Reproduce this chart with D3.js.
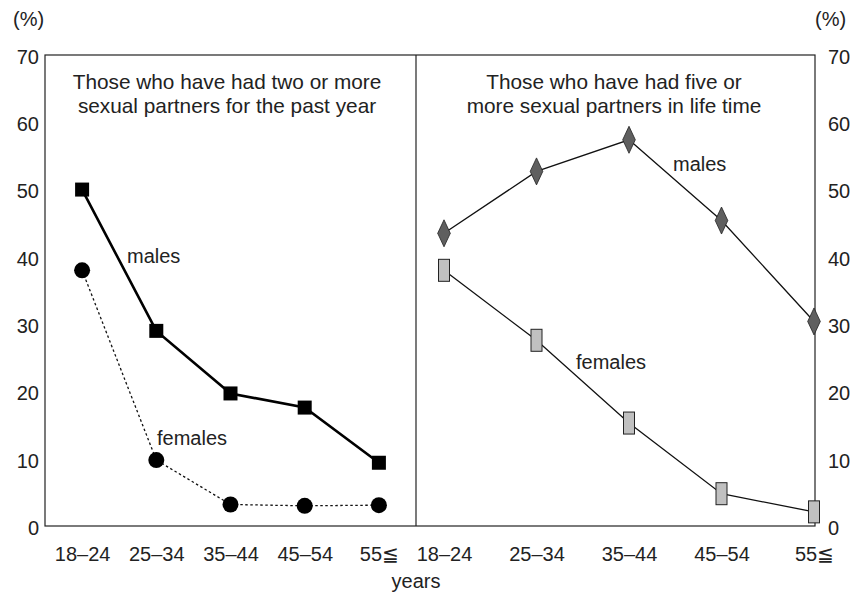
<!DOCTYPE html>
<html><head><meta charset="utf-8">
<script src="https://cdn.jsdelivr.net/npm/d3@7"></script>
<style>body{margin:0;background:#fff;} text{font-family:"Liberation Sans",Arial,sans-serif;fill:#222;}</style>
</head><body><svg id="c" width="853" height="594"></svg>
<script>
const categories = ["18–24","25–34","35–44","45–54","55≦"];
const leftMales = [50, 29, 19.7, 17.6, 9.4];
const leftFemales = [38, 9.8, 3.2, 3.0, 3.1];
const rightMales = [43.5, 52.7, 57.4, 45.4, 30.4];
const rightFemales = [38, 27.6, 15.3, 4.8, 2.1];
const yTicks = [0,10,20,30,40,50,60,70];

const svg = d3.select("#c");
const x0 = 45, xMid = 416, x1 = 815, yTop = 55, yBot = 526;
const y = d3.scaleLinear().domain([0,70]).range([yBot, yTop]);
const xL = d3.scalePoint().domain(categories).range([x0, xMid]).padding(0.5);
const xR = d3.scalePoint().domain(categories).range([444, 814]);

// frame
svg.append("rect").attr("x",x0).attr("y",yTop).attr("width",x1-x0).attr("height",yBot-yTop)
  .attr("fill","none").attr("stroke","#222").attr("stroke-width",1.2);
svg.append("line").attr("x1",xMid).attr("x2",xMid).attr("y1",yTop).attr("y2",yBot).attr("stroke","#222").attr("stroke-width",1.2);

const fs = 20;
const FF = "Liberation Sans, Arial, sans-serif";
// y axes
const ayL = d3.axisLeft(y).tickValues(yTicks).tickSize(0).tickPadding(6);
const gL = svg.append("g").attr("transform",`translate(${x0},2)`).call(ayL);
const ayR = d3.axisRight(y).tickValues(yTicks).tickSize(0).tickPadding(13);
const gR = svg.append("g").attr("transform",`translate(${x1},2)`).call(ayR);
[gL,gR].forEach(g=>{g.select(".domain").remove(); g.selectAll("text").attr("font-size",fs).attr("font-family",FF).attr("fill","#222");});

// x axes
const axL = d3.axisBottom(xL).tickSize(0).tickPadding(21);
const axR = d3.axisBottom(xR).tickSize(0).tickPadding(21);
const gxL = svg.append("g").attr("transform",`translate(0,${yBot})`).call(axL);
const gxR = svg.append("g").attr("transform",`translate(0,${yBot})`).call(axR);
[gxL,gxR].forEach(g=>{g.select(".domain").remove(); g.selectAll("text").attr("font-size",fs).attr("font-family",FF).attr("fill","#222");});

svg.append("text").attr("x",13).attr("y",26).attr("font-size",fs).text("(%)");
svg.append("text").attr("x",815).attr("y",26).attr("font-size",fs).text("(%)");
svg.append("text").attr("x",416).attr("y",588).attr("font-size",fs).attr("text-anchor","middle").text("years");

// titles
const tfs = 20.8;
const t1 = svg.append("text").attr("font-size",tfs).attr("text-anchor","middle");
t1.append("tspan").attr("x",227).attr("y",89).text("Those who have had two or more");
t1.append("tspan").attr("x",227).attr("y",113).text("sexual partners for the past year");
const t2 = svg.append("text").attr("font-size",tfs).attr("text-anchor","middle");
t2.append("tspan").attr("x",614).attr("y",89).text("Those who have had five or");
t2.append("tspan").attr("x",614).attr("y",113).text("more sexual partners in life time");

const line = (xs) => d3.line().x((d,i)=>xs(categories[i])).y(d=>y(d));

// left females
svg.append("path").datum(leftFemales).attr("d",line(xL)).attr("fill","none").attr("stroke","#111").attr("stroke-width",1.3).attr("stroke-dasharray","2.5,2.5");
svg.selectAll(".lf").data(leftFemales).join("circle").attr("cx",(d,i)=>xL(categories[i])).attr("cy",d=>y(d)).attr("r",8).attr("fill","#000");
// left males
svg.append("path").datum(leftMales).attr("d",line(xL)).attr("fill","none").attr("stroke","#000").attr("stroke-width",2.6);
svg.selectAll(".lm").data(leftMales).join("rect").attr("x",(d,i)=>xL(categories[i])-7).attr("y",d=>y(d)-7).attr("width",14).attr("height",14).attr("fill","#000");

// right males
svg.append("path").datum(rightMales).attr("d",line(xR)).attr("fill","none").attr("stroke","#111").attr("stroke-width",1.3);
svg.selectAll(".rm").data(rightMales).join("path")
  .attr("d",(d,i)=>{const cx=xR(categories[i]), cy=y(d); return `M${cx},${cy-13.5}L${cx+6.3},${cy}L${cx},${cy+13.5}L${cx-6.3},${cy}Z`;})
  .attr("fill","#5f5f5f").attr("stroke","#222").attr("stroke-width",0.8);
// right females
svg.append("path").datum(rightFemales).attr("d",line(xR)).attr("fill","none").attr("stroke","#111").attr("stroke-width",1.3);
svg.selectAll(".rf").data(rightFemales).join("rect").attr("x",(d,i)=>xR(categories[i])-5.5).attr("y",d=>y(d)-11).attr("width",11).attr("height",22)
  .attr("fill","#c0c0c0").attr("stroke","#222").attr("stroke-width",1);

// series labels
svg.append("text").attr("x",127).attr("y",263).attr("font-size",fs).text("males");
svg.append("text").attr("x",157).attr("y",445).attr("font-size",fs).text("females");
svg.append("text").attr("x",673).attr("y",171).attr("font-size",fs).text("males");
svg.append("text").attr("x",576).attr("y",369).attr("font-size",fs).text("females");
</script></body></html>
